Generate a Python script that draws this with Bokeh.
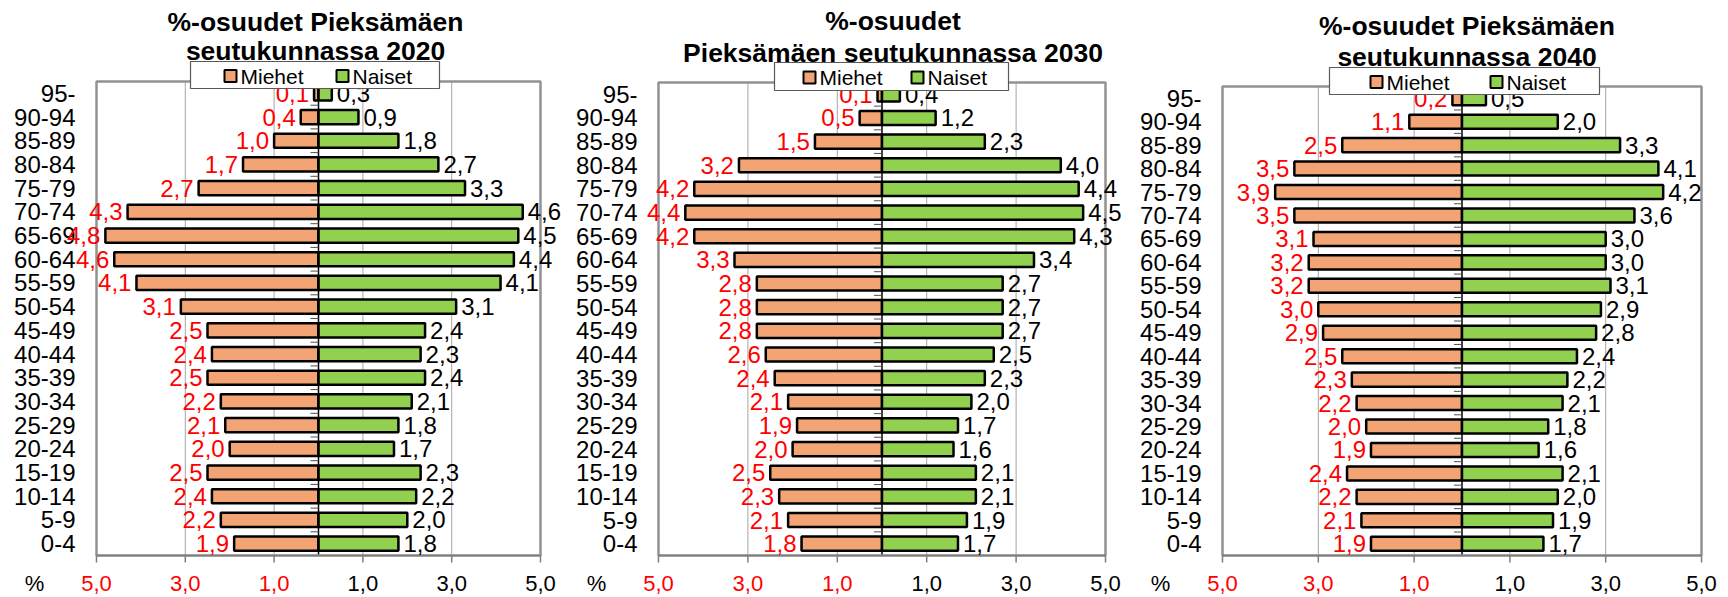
from bokeh.plotting import figure
from bokeh.models import Range1d, ColumnDataSource
from bokeh.layouts import row
from bokeh.core.properties import value
from bokeh.embed import file_html
from bokeh.resources import INLINE

# ---------------- data ----------------
categories = ["95-", "90-94", "85-89", "80-84", "75-79", "70-74", "65-69", "60-64",
              "55-59", "50-54", "45-49", "40-44", "35-39", "30-34", "25-29", "20-24",
              "15-19", "10-14", "5-9", "0-4"]

men_2020 = [0.1, 0.4, 1.0, 1.7, 2.7, 4.3, 4.8, 4.6, 4.1, 3.1, 2.5, 2.4, 2.5, 2.2, 2.1, 2.0, 2.5, 2.4, 2.2, 1.9]
women_2020 = [0.3, 0.9, 1.8, 2.7, 3.3, 4.6, 4.5, 4.4, 4.1, 3.1, 2.4, 2.3, 2.4, 2.1, 1.8, 1.7, 2.3, 2.2, 2.0, 1.8]

men_2030 = [0.1, 0.5, 1.5, 3.2, 4.2, 4.4, 4.2, 3.3, 2.8, 2.8, 2.8, 2.6, 2.4, 2.1, 1.9, 2.0, 2.5, 2.3, 2.1, 1.8]
women_2030 = [0.4, 1.2, 2.3, 4.0, 4.4, 4.5, 4.3, 3.4, 2.7, 2.7, 2.7, 2.5, 2.3, 2.0, 1.7, 1.6, 2.1, 2.1, 1.9, 1.7]

men_2040 = [0.2, 1.1, 2.5, 3.5, 3.9, 3.5, 3.1, 3.2, 3.2, 3.0, 2.9, 2.5, 2.3, 2.2, 2.0, 1.9, 2.4, 2.2, 2.1, 1.9]
women_2040 = [0.5, 2.0, 3.3, 4.1, 4.2, 3.6, 3.0, 3.0, 3.1, 2.9, 2.8, 2.4, 2.2, 2.1, 1.8, 1.6, 2.1, 2.0, 1.9, 1.7]

titles = [["%-osuudet Pieksämäen", "seutukunnassa 2020"],
          ["%-osuudet", "Pieksämäen seutukunnassa 2030"],
          ["%-osuudet Pieksämäen", "seutukunnassa 2040"]]

x_ticks = [-5, -3, -1, 1, 3, 5]
x_tick_labels = ["5,0", "3,0", "1,0", "1,0", "3,0", "5,0"]
grid_ticks = [-3, -1, 1, 3]
legend_labels = ["Miehet", "Naiset"]
unit_label = "%"

# ---------------- style / layout (pixels) ----------------
FONT = "Liberation Sans"
ORANGE = "#F2A474"
GREEN = "#92D050"
RED = "#FF0000"
H = 597

panels = [
    dict(w=572, bl=96, fw=444, bt=81, fh=474, tdx=-3, t1=21, t2=50,
         lg=(190, 439, 61, 88), sq=(224, 336)),
    dict(w=558, bl=86, fw=447, bt=82, fh=473, tdx=11, t1=20, t2=52,
         lg=(202, 436, 62, 90), sq=(231, 339)),
    dict(w=598, bl=92, fw=479, bt=86, fh=469, tdx=5, t1=25, t2=56,
         lg=(199, 469, 67, 94), sq=(240, 360)),
]


def fmt(v):
    return f"{v:.1f}".replace(".", ",")


def make_panel(men, women, title, cfg):
    n = len(categories)
    W, bl, fw, bt, fh = cfg["w"], cfg["bl"], cfg["fw"], cfg["bt"], cfg["fh"]
    ux = 10.0 / fw
    uy = n / fh
    xs0 = -5 - bl * ux
    ys1 = (n - 0.5) + bt * uy

    def X(px):  # figure pixel -> data x
        return xs0 + px * ux

    def Y(py):  # figure pixel (from top) -> data y
        return ys1 - py * uy

    p = figure(width=W, height=H, output_backend="svg", toolbar_location=None,
               title=None, x_axis_location=None, y_axis_location=None,
               x_range=Range1d(xs0, xs0 + W * ux), y_range=Range1d(ys1 - H * uy, ys1),
               min_border=0)
    p.grid.grid_line_color = None
    p.outline_line_color = None
    p.background_fill_color = "white"

    ys = [n - 1 - i for i in range(n)]
    bot, top = -0.5, n - 0.5
    src = ColumnDataSource(dict(
        y=ys, xm=[-m for m in men], xf=women,
        tm=[fmt(m) for m in men], tf=[fmt(f) for f in women], cat=categories))

    # vertical gridlines
    p.segment(x0=grid_ticks, x1=grid_ticks, y0=[bot] * len(grid_ticks),
              y1=[top] * len(grid_ticks), line_color="#A6A6A6", line_width=1)

    # bars
    p.hbar(y="y", left="xm", right=0, height=0.6, source=src,
           fill_color=ORANGE, line_color="black", line_width=2.5)
    p.hbar(y="y", left=0, right="xf", height=0.6, source=src,
           fill_color=GREEN, line_color="black", line_width=2.5)

    # centre category axis with small tick marks
    p.segment(x0=[0], x1=[0], y0=[bot], y1=[top], line_color="black", line_width=1.5)
    bounds = [k - 0.5 for k in range(n + 1)]
    p.segment(x0=[0] * len(bounds), x1=[-8 * ux] * len(bounds), y0=bounds, y1=bounds,
              line_color="#505050", line_width=1)

    # plot-area border and x axis
    p.quad(left=[-5], right=[5], bottom=[bot], top=[top], fill_color=None,
           line_color="#929292", line_width=2.5)
    p.segment(x0=[-5], x1=[5], y0=[bot], y1=[bot], line_color="#7F7F7F", line_width=1.5)
    p.segment(x0=x_ticks, x1=x_ticks, y0=[bot] * len(x_ticks),
              y1=[bot - 7 * uy] * len(x_ticks), line_color="#7F7F7F", line_width=1.5)

    # x tick labels (red on the men's side)
    y_lab = bot - 27.5 * uy
    p.text(x=x_ticks, y=[y_lab] * len(x_ticks), text=x_tick_labels,
           text_color=[RED if t < 0 else "black" for t in x_ticks],
           text_align="center", text_baseline="middle",
           text_font=value(FONT), text_font_size=value("22px"))
    p.text(x=[-5 - 62 * ux], y=[y_lab], text=[unit_label], text_color="black",
           text_align="center", text_baseline="middle",
           text_font=value(FONT), text_font_size=value("22px"))

    # category labels
    p.text(x=-5 - 21 * ux, y="y", text="cat", source=src, text_color="black",
           text_align="right", text_baseline="middle",
           text_font=value(FONT), text_font_size=value("24px"))

    # value labels
    p.text(x="xm", y="y", text="tm", source=src, x_offset=-5, text_color=RED,
           text_align="right", text_baseline="middle",
           text_font=value(FONT), text_font_size=value("24px"))
    p.text(x="xf", y="y", text="tf", source=src, x_offset=5, text_color="black",
           text_align="left", text_baseline="middle",
           text_font=value(FONT), text_font_size=value("24px"))

    # title (two lines)
    p.text(x=[cfg["tdx"] * ux] * 2, y=[Y(cfg["t1"]), Y(cfg["t2"])], text=title,
           text_color="black", text_align="center", text_baseline="middle",
           text_font=value(FONT), text_font_size=value("26.5px"), text_font_style="bold")

    # legend
    l, r, t, b = cfg["lg"]
    p.quad(left=[X(l)], right=[X(r)], top=[Y(t)], bottom=[Y(b)],
           fill_color="white", line_color="#595959", line_width=1.2)
    yc = (t + b) / 2.0 + 1
    sq_left = [X(s) for s in cfg["sq"]]
    p.quad(left=sq_left, right=[s + 12 * ux for s in sq_left],
           top=[Y(yc - 6)] * 2, bottom=[Y(yc + 6)] * 2,
           fill_color=[ORANGE, GREEN], line_color="black", line_width=2)
    p.text(x=[s + 16 * ux for s in sq_left], y=[Y(yc)] * 2, text=legend_labels,
           text_color="black", text_align="left", text_baseline="middle",
           text_font=value(FONT), text_font_size=value("21px"))
    return p


figs = [make_panel(men_2020, women_2020, titles[0], panels[0]),
        make_panel(men_2030, women_2030, titles[1], panels[1]),
        make_panel(men_2040, women_2040, titles[2], panels[2])]

layout = row(*figs, spacing=0)
open("out.html", "w").write(file_html(layout, INLINE))
